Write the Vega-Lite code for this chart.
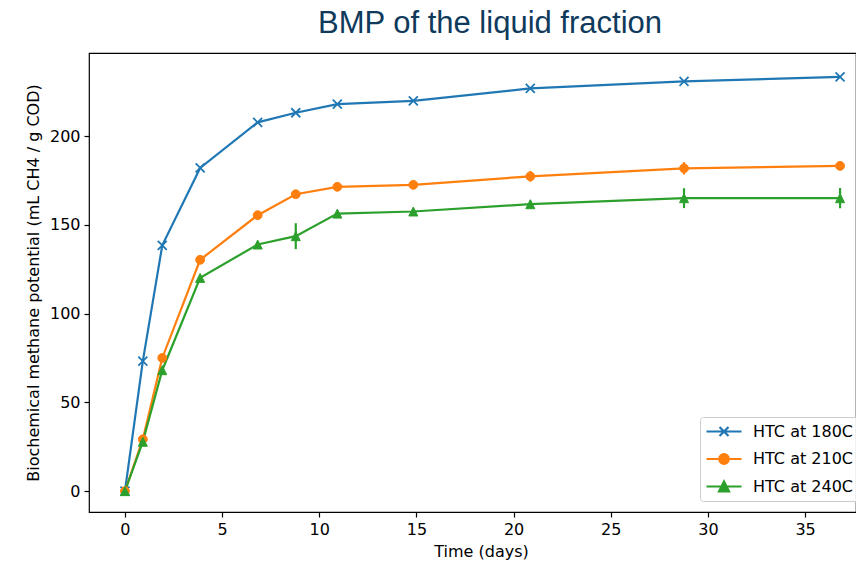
{
  "$schema": "https://vega.github.io/schema/vega-lite/v6.json",
  "width": 767,
  "height": 459,
  "autosize": {"type": "none"},
  "padding": {"left": 89, "top": 53, "right": 0, "bottom": 50},
  "background": "white",
  "title": {
    "text": "BMP of the liquid fraction",
    "font": "Liberation Sans",
    "fontSize": 31,
    "fontWeight": "normal",
    "color": "#0f3a5c",
    "anchor": "middle",
    "frame": "group",
    "dx": 17.5,
    "baseline": "alphabetic",
    "offset": -11
  },
  "config": {
    "view": {"stroke": "#000", "strokeWidth": 1.2},
    "axis": {
      "domain": false,
      "grid": false,
      "tickColor": "#000",
      "tickSize": 5,
      "tickWidth": 1.2,
      "labelFont": "DejaVu Sans",
      "labelFontSize": 16,
      "labelColor": "#000",
      "labelPadding": 4,
      "titleFont": "DejaVu Sans",
      "titleFontSize": 16,
      "titleFontWeight": "normal",
      "titleColor": "#000"
    }
  },
  "data": {
    "values": [
      {"series": "HTC at 180C", "day": 0, "bmp": 0},
      {"series": "HTC at 180C", "day": 0.92, "bmp": 73.2},
      {"series": "HTC at 180C", "day": 1.92, "bmp": 138.4},
      {"series": "HTC at 180C", "day": 3.87, "bmp": 182},
      {"series": "HTC at 180C", "day": 6.83, "bmp": 207.7},
      {"series": "HTC at 180C", "day": 8.79, "bmp": 213.1},
      {"series": "HTC at 180C", "day": 10.93, "bmp": 218},
      {"series": "HTC at 180C", "day": 14.84, "bmp": 219.8},
      {"series": "HTC at 180C", "day": 20.86, "bmp": 226.8},
      {"series": "HTC at 180C", "day": 28.77, "bmp": 230.8},
      {"series": "HTC at 180C", "day": 36.8, "bmp": 233.3},
      {"series": "HTC at 210C", "day": 0, "bmp": 0},
      {"series": "HTC at 210C", "day": 0.92, "bmp": 29.2},
      {"series": "HTC at 210C", "day": 1.92, "bmp": 75},
      {"series": "HTC at 210C", "day": 3.87, "bmp": 130.3},
      {"series": "HTC at 210C", "day": 6.83, "bmp": 155.4},
      {"series": "HTC at 210C", "day": 8.79, "bmp": 167.2},
      {"series": "HTC at 210C", "day": 10.93, "bmp": 171.4},
      {"series": "HTC at 210C", "day": 14.84, "bmp": 172.5},
      {"series": "HTC at 210C", "day": 20.86, "bmp": 177.3, "lo": 174.3, "hi": 180.3},
      {"series": "HTC at 210C", "day": 28.77, "bmp": 181.8, "lo": 178.3, "hi": 185.3},
      {"series": "HTC at 210C", "day": 36.8, "bmp": 183.2, "lo": 180.7, "hi": 185.7},
      {"series": "HTC at 240C", "day": 0, "bmp": 0},
      {"series": "HTC at 240C", "day": 0.92, "bmp": 27.8},
      {"series": "HTC at 240C", "day": 1.92, "bmp": 68.1},
      {"series": "HTC at 240C", "day": 3.87, "bmp": 120.1},
      {"series": "HTC at 240C", "day": 6.83, "bmp": 138.9},
      {"series": "HTC at 240C", "day": 8.79, "bmp": 143.6, "lo": 136.3, "hi": 150.9},
      {"series": "HTC at 240C", "day": 10.93, "bmp": 156.3},
      {"series": "HTC at 240C", "day": 14.84, "bmp": 157.5},
      {"series": "HTC at 240C", "day": 20.86, "bmp": 161.6, "lo": 159.6, "hi": 163.6},
      {"series": "HTC at 240C", "day": 28.77, "bmp": 165, "lo": 159.4, "hi": 170.6},
      {"series": "HTC at 240C", "day": 36.8, "bmp": 165, "lo": 159.3, "hi": 170.7}
    ]
  },
  "encoding": {
    "x": {
      "field": "day",
      "type": "quantitative",
      "scale": {"domain": [-1.85, 37.62], "nice": false, "zero": false},
      "axis": {"values": [0, 5, 10, 15, 20, 25, 30, 35], "format": "d", "title": "Time (days)", "titlePadding": 6, "titleX": 392}
    },
    "y": {
      "field": "bmp",
      "type": "quantitative",
      "scale": {"domain": [-11.75, 246.75], "nice": false, "zero": false},
      "axis": {"values": [0, 50, 100, 150, 200], "format": "d", "title": "Biochemical methane potential (mL CH4 / g COD)", "titlePadding": 8}
    },
    "color": {
      "field": "series",
      "type": "nominal",
      "scale": {"domain": ["HTC at 180C", "HTC at 210C", "HTC at 240C"], "range": ["#1f77b4", "#ff7f0e", "#2ca02c"]},
      "legend": {
        "title": null,
        "orient": "none",
        "legendX": 611,
        "legendY": 364,
        "padding": 5,
        "strokeColor": "#cccccc",
        "fillColor": "rgba(255,255,255,0.8)",
        "cornerRadius": 3,
        "labelFont": "DejaVu Sans",
        "labelFontSize": 16,
        "labelColor": "#000",
        "labelOffset": 29,
        "rowPadding": 8.5,
        "symbolSize": 256,
        "symbolStrokeWidth": 2.2,
        "encode": {
          "symbols": {
            "update": {
              "shape": {"signal": "datum.value === 'HTC at 180C' ? 'M-1,0H3.38M0.63,-0.56L1.75,0.56M0.63,0.56L1.75,-0.56' : (datum.value === 'HTC at 210C' ? 'M-1,0H3.38M1.79,0A0.6,0.6 0 1,1 0.59,0A0.6,0.6 0 1,1 1.79,0Z' : 'M-1,0H3.38M1.19,-0.62L1.81,0.6L0.57,0.6Z')"},
              "fill": {"scale": "color", "field": "value"},
              "stroke": {"scale": "color", "field": "value"},
              "strokeWidth": {"value": 2.2},
              "opacity": {"value": 1},
              "fillOpacity": {"value": 1},
              "size": {"value": 256}
            }
          }
        }
      }
    }
  },
  "layer": [
    {
      "mark": {"type": "line", "strokeWidth": 2.2}
    },
    {
      "transform": [{"filter": "isValid(datum.lo)"}],
      "mark": {"type": "rule", "strokeWidth": 2.2},
      "encoding": {
        "y": {"field": "lo", "type": "quantitative"},
        "y2": {"field": "hi"}
      }
    },
    {
      "transform": [{"filter": "datum.series === 'HTC at 180C'"}],
      "mark": {"type": "point", "filled": true, "shape": "M-1,-1L1,1M-1,1L1,-1", "size": 81, "stroke": "#1f77b4", "strokeWidth": 1.8, "opacity": 1}
    },
    {
      "transform": [{"filter": "datum.series === 'HTC at 210C'"}],
      "mark": {"type": "point", "filled": true, "shape": "circle", "size": 78, "stroke": "#ff7f0e", "strokeWidth": 1, "opacity": 1}
    },
    {
      "transform": [{"filter": "datum.series === 'HTC at 240C'"}],
      "mark": {"type": "point", "filled": true, "shape": "M0,-1L1,1L-1,1Z", "size": 81, "stroke": "#2ca02c", "strokeWidth": 1, "opacity": 1}
    }
  ]
}
